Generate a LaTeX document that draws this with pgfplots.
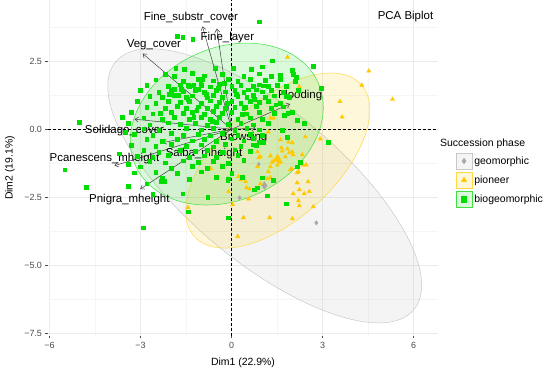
\documentclass[border=0pt]{standalone}
\usepackage{fontspec}
\setmainfont{Liberation Sans}
\usepackage{pgfplots}
\pgfplotsset{compat=1.18}
\usetikzlibrary{arrows.meta}
\definecolor{ptgreen}{HTML}{00DD00}
\definecolor{ptyellow}{HTML}{FFC800}
\definecolor{ptgray}{HTML}{A8A8A8}
\definecolor{elgray}{HTML}{C8C8C8}
\definecolor{elyellow}{HTML}{FFD84A}
\definecolor{elgreen}{HTML}{3FE03F}
\definecolor{gridmaj}{HTML}{EBEBEB}
\definecolor{gridmin}{HTML}{F5F5F5}
\definecolor{ticktext}{HTML}{4D4D4D}
\definecolor{arrowc}{HTML}{404040}
\begin{document}
\begin{tikzpicture}
\useasboundingbox (0,0) rectangle (550bp,376bp);
\begin{axis}[
  at={(48bp,40bp)}, anchor=south west,
  scale only axis, width=390bp, height=336bp,
  xmin=-6.05, xmax=6.8, ymin=-7.6, ymax=4.75,
  axis line style={draw=none},
  xtick={-6,-3,0,3,6}, xticklabels={−6,−3,0,3,6},
  ytick={-7.5,-5,-2.5,0,2.5}, yticklabels={−7.5,−5.0,−2.5,0.0,2.5},
  minor xtick={-4.5,-1.5,1.5,4.5}, minor ytick={-6.25,-3.75,-1.25,1.25,3.75},
  grid=both, major grid style={gridmaj, line width=0.6bp}, minor grid style={gridmin, line width=0.4bp},
  tick align=outside, tick pos=left,
  major tick length=2.5bp, minor tick length=0pt,
  tick style={black!70, line width=0.6bp},
  ticklabel style={font=\fontsize{9}{10}\selectfont, text=ticktext},
  legend style={at={(axis description cs:1.045,0.546)}, anchor=north west, draw=none, fill=none,
    font=\fontsize{10.5}{12}\selectfont, row sep=2.5bp, inner sep=0pt},
  legend cell align=left,
]
% ellipses
\draw[elgray, fill=ptgray, fill opacity=0.12, line width=0.5bp, shift={(axis cs:1.09,-2.08)}, rotate=-39.7] (0bp,0bp) ellipse [x radius=193.9bp, y radius=76.3bp];
\draw[elyellow, fill=ptyellow, fill opacity=0.15, line width=0.5bp, shift={(axis cs:1.52,-1.15)}, rotate=42.5] (0bp,0bp) ellipse [x radius=112.8bp, y radius=58.4bp];
\draw[elgreen, fill=ptgreen, fill opacity=0.14, line width=0.5bp, shift={(axis cs:-0.16,0.19)}, rotate=24.8] (0bp,0bp) ellipse [x radius=100.3bp, y radius=76.2bp];
% reference lines
\addplot[forget plot, black, line width=0.5bp, dash pattern=on 2.5bp off 2.5bp] coordinates {(0,-7.6) (0,4.75)};
\addplot[forget plot, black, line width=0.5bp, dash pattern=on 2.5bp off 2.5bp] coordinates {(-6.05,0) (6.8,0)};
% geomorphic
\addplot[forget plot, only marks, mark=diamond*, mark size=2.2bp, ptgray, mark options={draw=ptgray, fill=ptgray}] coordinates {
(0.89,-1.29) (0.26,-2.52) (2.79,-3.44)};
\addplot[forget plot, only marks, mark=diamond*, mark size=3.8bp, ptgray, mark options={draw=ptgray, fill=ptgray}] coordinates {(1.08,-2.07)};
% pioneer
\addplot[forget plot, only marks, mark=triangle*, mark size=2.4bp, ptyellow, mark options={draw=ptyellow, fill=ptyellow}] coordinates {
(1.84,2.65) (2.23,1.57) (3.57,1.02) (4.29,1.62) (4.52,2.14) (5.30,1.10) (3.64,0.45) (2.92,-0.36)
(1.28,0.41) (1.38,0.41) (1.21,-0.1) (1.61,-0.39) (1.87,-0.47) (2.0,-0.5) (2.43,-0.28) (1.64,-0.68)
(1.67,-0.80) (1.28,-0.98) (1.51,-1.01) (1.77,-1.01) (2.0,-0.83) (2.33,-0.94) (2.36,-1.31) (1.34,-1.2)
(1.44,-1.12) (1.54,-1.05) (1.61,-1.2) (0.95,-1.01) (0.85,-1.38) (1.93,-1.49) (2.2,-1.56) (1.21,-1.56)
(0.03,-2.77) (0.56,-2.56) (0.39,-3.25) (1.25,-3.25) (0.20,-3.94) (-1.44,-2.88) (0.30,-1.86) (0.46,-1.93)
(0.49,-2.15) (0.95,-2.0) (2.16,-1.97) (2.52,-1.93) (2.23,-2.22) (2.56,-2.29) (2.39,-2.37) (2.03,-2.37)
(2.2,-2.63) (2.23,-2.81) (2.69,-2.85) (2.0,-3.29) (-0.69,-1.45) (0.23,-1.74) (2.16,-1.6) (2.46,-1.31)
(1.97,-1.45) (2.03,-0.94) (1.84,-0.72) (0.85,-0.83) (0.89,-1.05) (1.18,-1.82) (1.28,-1.78) (-0.13,-1.82)
(-0.1,-2.29) (0.59,-2.19) (-0.75,-1.45) (1.57,-1.2) (1.51,-1.31) (1.28,-1.38) (1.9,-0.86)};
\addplot[forget plot, only marks, mark=triangle*, mark size=3.8bp, ptyellow, mark options={draw=ptyellow, fill=ptyellow}] coordinates {(1.51,-1.12)};
% biogeomorphic
\addplot[forget plot, only marks, mark=square*, mark size=1.9bp, ptgreen, mark options={draw=ptgreen, fill=ptgreen}] coordinates {
(0.92,3.95) (-1.80,3.42) (-1.61,3.38) (-1.28,3.30) (1.34,2.52) (2.69,2.32) (2.0,2.18) (2.03,2.02)
(2.13,1.92) (2.95,1.51) (3.18,-0.47) (-5.02,0.27) (-5.5,-1.49) (-4.79,-2.12) (-2.92,-3.62) (-1.61,-2.37)
(-1.44,-3.03) (-0.79,-2.50) (-0.1,-3.25) (-2.33,-1.92) (-2.23,-1.92) (-0.13,-1.89) (0.36,-1.75) (1.02,-1.78)
(0.75,-2.22) (0.85,-2.15) (1.18,-2.44) (1.38,-1.86) (1.80,-2.74) (2.26,-1.2) (2.16,-1.38) (1.74,0.52)
(2.16,0.34) (1.67,-0.03) (1.84,-0.28) (2.39,0.23) (1.05,-0.47) (0.72,-0.57) (0.72,-0.32) (0.89,-0.47)
(-1.84,2.24) (-1.57,2.21) (-1.9,1.47) (-1.44,1.62) (-1.25,1.62) (-1.02,1.69) (-1.1,1.47) (-1.67,1.47)
(-2.2,2.02) (-1.9,1.95) (-1.3,2.05) (-0.9,1.97) (-0.3,2.03) (0.4,1.96) (0.9,2.04) (1.3,1.94)
(-2.5,1.82) (-1.6,1.76) (-1.1,1.84) (-0.6,1.78) (-0.1,1.83) (0.2,1.77) (0.6,1.85) (1.1,1.79) (1.6,1.83) (2.1,1.76)
(-2.8,1.62) (-2.1,1.57) (-1.7,1.64) (-1.4,1.58) (-1.0,1.63) (-0.7,1.56) (-0.4,1.65) (0.0,1.59) (0.3,1.62) (0.7,1.57) (0.9,1.64) (1.2,1.58) (1.5,1.63) (1.8,1.57)
(-3.0,1.42) (-2.4,1.37) (-2.0,1.44) (-1.6,1.38) (-1.2,1.43) (-0.9,1.36) (-0.5,1.44) (-0.2,1.38) (0.1,1.42) (0.4,1.37) (0.8,1.45) (1.0,1.38) (1.3,1.43) (1.7,1.37) (2.2,1.42)
(-2.7,1.22) (-2.3,1.17) (-1.9,1.24) (-1.5,1.18) (-1.3,1.23) (-0.8,1.16) (-0.6,1.25) (-0.3,1.18) (0.2,1.22) (0.5,1.17) (0.7,1.24) (1.1,1.18) (1.4,1.23) (1.9,1.17)
(-3.1,1.02) (-2.5,0.97) (-2.1,1.04) (-1.7,0.98) (-1.4,1.03) (-1.0,0.96) (-0.7,1.05) (-0.4,0.98) (0.0,1.02) (0.3,0.97) (0.6,1.04) (0.9,0.98) (1.2,1.03) (1.6,0.97)
(-2.8,0.82) (-2.2,0.77) (-1.8,0.84) (-1.5,0.78) (-1.1,0.83) (-0.8,0.76) (-0.5,0.85) (-0.2,0.78) (0.1,0.82) (0.4,0.77) (0.8,0.84) (1.3,0.78) (1.7,0.83)
(-3.3,0.62) (-2.6,0.57) (-2.0,0.64) (-1.6,0.58) (-1.3,0.63) (-0.9,0.56) (-0.6,0.65) (-0.3,0.58) (0.0,0.62) (0.5,0.57) (0.9,0.64) (1.4,0.58) (2.0,0.63)
(-2.9,0.42) (-2.3,0.37) (-1.9,0.44) (-1.4,0.38) (-1.0,0.43) (-0.7,0.36) (-0.4,0.45) (0.2,0.38) (0.6,0.42) (1.0,0.37)
(-3.4,0.22) (-2.7,0.17) (-2.1,0.24) (-1.7,0.18) (-1.2,0.23) (-0.8,0.16) (-0.5,0.25) (-0.1,0.18) (0.3,0.22) (0.7,0.17) (1.2,0.23)
(-2.9,0.02) (-2.4,-0.03) (-1.5,0.04) (-1.0,-0.02) (-0.6,0.03) (0.1,-0.04) (0.5,0.05) (0.9,-0.02)
(-3.2,-0.18) (-2.6,-0.23) (-2.0,-0.16) (-1.6,-0.22) (-1.1,-0.17) (-0.7,-0.24) (-0.3,-0.15) (0.2,-0.22) (0.6,-0.18) (1.0,-0.23)
(-2.8,-0.38) (-2.3,-0.43) (-1.8,-0.36) (-1.3,-0.42) (-0.9,-0.37) (-0.5,-0.44) (0.0,-0.35) (0.4,-0.42)
(-3.3,-0.58) (-2.5,-0.63) (-2.0,-0.56) (-1.5,-0.62) (-1.0,-0.57) (-0.6,-0.64) (-0.2,-0.55) (0.3,-0.62) (0.8,-0.58)
(-2.9,-0.78) (-2.4,-0.83) (-1.7,-0.76) (-1.2,-0.82) (-0.8,-0.77) (-0.3,-0.84) (0.1,-0.75) (0.6,-0.82)
(-3.1,-0.98) (-2.6,-1.03) (-2.1,-0.96) (-1.4,-1.02) (-0.9,-0.97) (-0.5,-1.04) (0.2,-0.95)
(-2.7,-1.18) (-2.2,-1.23) (-1.6,-1.16) (-1.1,-1.22) (-0.6,-1.17) (-0.1,-1.24) (0.4,-1.15)
(-3.0,-1.38) (-2.0,-1.43) (-1.3,-1.36) (-0.8,-1.42) (-0.3,-1.37)
(-2.5,-1.58) (-1.8,-1.63) (-1.0,-1.56) (0.0,-1.62)
(-2.3,-1.78) (-1.4,-1.83) (-0.5,-1.76) (-0.1,-1.82)
(-1.45,1.1) (-1.15,0.7) (-0.85,1.3) (-0.45,1.5) (-0.15,0.95) (0.15,1.3) (0.45,0.8) (-0.95,1.85)
(-0.25,1.7) (0.55,1.45) (1.05,1.6) (-1.75,1.25) (-1.25,0.45) (-0.65,0.3) (0.35,0.55) (0.75,1.1)
(1.45,0.9) (1.8,1.2) (-2.35,0.6) (-2.05,1.3) (0.05,2.25) (0.65,2.2) (-0.55,2.25) (1.0,2.3)
(1.6,2.0) (1.85,0.6) (-3.6,0.45) (-3.5,-0.1) (-3.7,-0.9) (-3.4,-1.3) (-3.2,-1.6) (-2.8,-2.0)
(-2.6,-2.4) (-3.4,-2.1)};
% variable arrows
\addplot[forget plot, arrowc, line width=0.5bp, -{Straight Barb[length=3.5bp,width=5bp]}] coordinates {(0,0) (-0.96,3.78)};
\addplot[forget plot, arrowc, line width=0.5bp, -{Straight Barb[length=3.5bp,width=5bp]}] coordinates {(0,0) (-0.49,3.70)};
\addplot[forget plot, arrowc, line width=0.5bp, -{Straight Barb[length=3.5bp,width=5bp]}] coordinates {(0,0) (-2.93,2.78)};
\addplot[forget plot, arrowc, line width=0.5bp, -{Straight Barb[length=3.5bp,width=5bp]}] coordinates {(0,0) (1.93,0.93)};
\addplot[forget plot, arrowc, line width=0.5bp, -{Straight Barb[length=3.5bp,width=5bp]}] coordinates {(0,0) (-3.20,0.37)};
\addplot[forget plot, arrowc, line width=0.5bp, -{Straight Barb[length=3.5bp,width=5bp]}] coordinates {(0,0) (0.79,0.04)};
\addplot[forget plot, arrowc, line width=0.5bp, -{Straight Barb[length=3.5bp,width=5bp]}] coordinates {(0,0) (-2.27,-0.49)};
\addplot[forget plot, arrowc, line width=0.5bp, -{Straight Barb[length=3.5bp,width=5bp]}] coordinates {(0,0) (-3.86,-1.34)};
\addplot[forget plot, arrowc, line width=0.5bp, -{Straight Barb[length=3.5bp,width=5bp]}] coordinates {(0,0) (-3.01,-2.20)};
% arrow labels
\begin{scope}[every node/.style={font=\fontsize{11.5}{13}\selectfont, text=black, inner sep=0pt}]
\node at (axis cs:-1.34,4.12) {Fine\_substr\_cover};
\node at (axis cs:-0.14,3.37) {Fine\_layer};
\node at (axis cs:-2.56,3.09) {Veg\_cover};
\node at (axis cs:2.26,1.22) {Flooding};
\node at (axis cs:-3.53,-0.03) {Solidago\_cover};
\node at (axis cs:0.40,-0.31) {Browsing};
\node at (axis cs:-0.91,-0.90) {Salba\_mheight};
\node at (axis cs:-4.19,-1.06) {Pcanescens\_mheight};
\node at (axis cs:-3.37,-2.59) {Pnigra\_mheight};
\node at (axis cs:5.73,4.13) {PCA Biplot};
\end{scope}
% legend
\addlegendimage{legend image code/.code={\draw[elgray, fill=ptgray!12, line width=0.6bp] (0bp,-8bp) rectangle (16bp,8bp); \draw[mark=diamond*, mark size=2.8bp, ptgray, fill=ptgray] plot coordinates {(8bp,0bp)};}}
\addlegendentry{geomorphic}
\addlegendimage{legend image code/.code={\draw[elyellow, fill=ptyellow!15, line width=0.6bp] (0bp,-8bp) rectangle (16bp,8bp); \draw[mark=triangle*, mark size=3bp, ptyellow, fill=ptyellow] plot coordinates {(8bp,0bp)};}}
\addlegendentry{pioneer}
\addlegendimage{legend image code/.code={\draw[elgreen, fill=ptgreen!14, line width=0.6bp] (0bp,-8bp) rectangle (16bp,8bp); \draw[mark=square*, mark size=2.6bp, ptgreen, fill=ptgreen] plot coordinates {(8bp,0bp)};}}
\addlegendentry{biogeomorphic}
\end{axis}
\node[anchor=west, inner sep=0pt, font=\fontsize{10.5}{12}\selectfont] at (440bp,232bp) {Succession phase};
\node[inner sep=0pt, font=\fontsize{10.5}{12}\selectfont] at (243bp,13bp) {Dim1 (22.9\%)};
\node[inner sep=0pt, rotate=90, font=\fontsize{10.5}{12}\selectfont] at (10bp,208bp) {Dim2 (19.1\%)};
\end{tikzpicture}
\end{document}
